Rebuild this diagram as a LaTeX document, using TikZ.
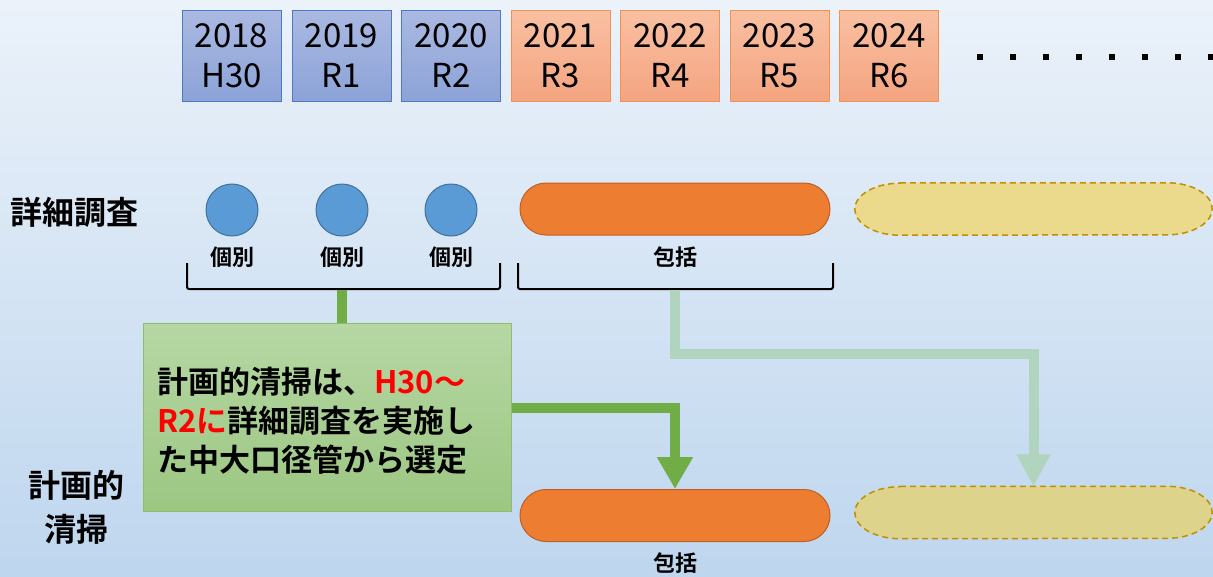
\documentclass[tikz,border=0pt]{standalone}
\usepackage{fontspec}
\setmainfont{Noto Sans CJK JP}[BoldFont={Noto Sans CJK JP Bold}]
\usetikzlibrary{arrows.meta,calc}
\definecolor{bgtop}{RGB}{235,242,250}
\definecolor{bgbot}{RGB}{190,214,238}
\definecolor{bluetop}{RGB}{170,185,225}
\definecolor{bluebot}{RGB}{140,163,216}
\definecolor{blueedge}{RGB}{80,120,200}
\definecolor{ortop}{RGB}{249,192,162}
\definecolor{orbot}{RGB}{244,164,128}
\definecolor{oredge}{RGB}{244,145,80}
\definecolor{circfill}{RGB}{91,155,213}
\definecolor{circedge}{RGB}{65,113,156}
\definecolor{pillfill}{RGB}{237,125,49}
\definecolor{pilledge}{RGB}{190,95,40}
\definecolor{yelfill}{RGB}{235,217,140}
\definecolor{yelfillb}{RGB}{222,211,138}
\definecolor{yeledge}{RGB}{191,144,0}
\definecolor{gline}{RGB}{112,173,71}
\definecolor{gtop}{RGB}{182,215,164}
\definecolor{gbot}{RGB}{156,199,130}
\definecolor{gedge}{RGB}{140,190,110}
\definecolor{fade}{RGB}{176,212,190}
\definecolor{redtxt}{RGB}{255,0,0}
\begin{document}
\begin{tikzpicture}[x=1pt,y=-1pt,
  yearbox/.style={minimum width=99pt,minimum height=91pt,inner sep=0pt,align=center,
    font=\fontsize{33}{40}\selectfont,line width=0.8pt},
  bluebox/.style={yearbox,top color=bluetop,bottom color=bluebot,draw=blueedge},
  orbox/.style={yearbox,top color=ortop,bottom color=orbot,draw=oredge},
  circ/.style={circle,minimum size=52pt,inner sep=0pt,fill=circfill,draw=circedge,line width=1pt},
  lab/.style={inner sep=0pt,font=\bfseries\fontsize{22}{26}\selectfont},
  bigl/.style={inner sep=0pt,align=center,font=\bfseries\fontsize{32}{44}\selectfont},
  opill/.style={minimum width=310pt,minimum height=52pt,rounded corners=26pt,fill=pillfill,draw=pilledge,line width=1pt},
  yslot/.style={minimum width=357pt,minimum height=52pt,inner sep=0pt},
  ypill/.style={draw=yeledge,line width=1.5pt,dash pattern=on 6pt off 4pt},
  brk/.style={draw=black,line width=2pt,rounded corners=2pt},
  gstem/.style={draw=gline,line width=10pt},
  garrow/.style={draw=gline,line width=10pt,line join=miter,-{Triangle[width=34pt,length=32pt]}},
  farrow/.style={draw=fade,line width=10pt,line join=miter,-{Triangle[width=32pt,length=32pt]}},
  gboxst/.style={minimum width=368pt,minimum height=188pt,top color=gtop,bottom color=gbot,draw=gedge,line width=1pt,inner sep=0pt}
]
\useasboundingbox (0,0) rectangle (1213,576);
\shade[top color=bgtop,bottom color=bgbot] (0,0) rectangle (1213,576);

% year boxes
\node[bluebox] (yr1) at (231.5,55.5) {2018\\H30};
\node[bluebox] (yr2) at (341.5,55.5) {2019\\R1};
\node[bluebox] (yr3) at (451,55.5) {2020\\R2};
\node[orbox] (yr4) at (560.5,55.5) {2021\\R3};
\node[orbox] (yr5) at (670,55.5) {2022\\R4};
\node[orbox] (yr6) at (779.5,55.5) {2023\\R5};
\node[orbox] (yr7) at (889,55.5) {2024\\R6};
\foreach \k in {0,...,7}{\fill (980+33*\k-3,57-3) rectangle (980+33*\k+3,57+3);}

% left labels
\node[bigl] (lab1) at (74,212) {詳細調査};
\node[bigl] (lab2) at (76,507) {計画的\\清掃};

% detail survey
\node[circ] (c1) at (232,210) {};
\node[circ] (c2) at (342,210) {};
\node[circ] (c3) at (451,210) {};
\node[lab] (k1) at (232,257) {個別};
\node[lab] (k2) at (342,257) {個別};
\node[lab] (k3) at (451,257) {個別};
\node[opill] (p1) at (675,209) {};
\node[yslot] (y1) at (1033.5,209) {};
\path[ypill,fill=yelfill] ([xshift=45pt]y1.north west) -- ([xshift=-45pt]y1.north east)
  arc[start angle=90,end angle=-90,x radius=45pt,y radius=26pt]
  -- ([xshift=45pt]y1.south west)
  arc[start angle=270,end angle=90,x radius=45pt,y radius=26pt] -- cycle;
\node[lab] (h1) at (675,257) {包括};

% brackets
\draw[brk] (187,263) |- (500,289) -- (500,263);
\draw[brk] (518,263) |- (833,289) -- (833,263);
\coordinate (b1) at (342,290);
\coordinate (b2) at (675,290);

% faded arrow
\node[yslot] (y2) at (1033.5,512.5) {};
\path[ypill,fill=yelfillb] ([xshift=45pt]y2.north west) -- ([xshift=-45pt]y2.north east)
  arc[start angle=90,end angle=-90,x radius=45pt,y radius=26pt]
  -- ([xshift=45pt]y2.south west)
  arc[start angle=270,end angle=90,x radius=45pt,y radius=26pt] -- cycle;
\draw[farrow] (b2) -- ++(0,64) -| (y2.north);

% green box
\node[gboxst] (gbox) at (327,417) {};
\draw[gstem] (b1) -- (b1 |- gbox.north);
\node[anchor=west,inner sep=0pt,align=left,font=\bfseries\fontsize{31}{39}\selectfont] (gtxt) at (157,421)
  {計画的清掃は、\textcolor{redtxt}{H30～}\\\textcolor{redtxt}{R2に}詳細調査を実施し\\た中大口径管から選定};

% plan cleaning
\node[opill] (p2) at (675,515.5) {};
\node[lab] (h2) at (675,563) {包括};
\draw[garrow] ([yshift=9pt]gbox.east) -| (p2.north);
\end{tikzpicture}
\end{document}
